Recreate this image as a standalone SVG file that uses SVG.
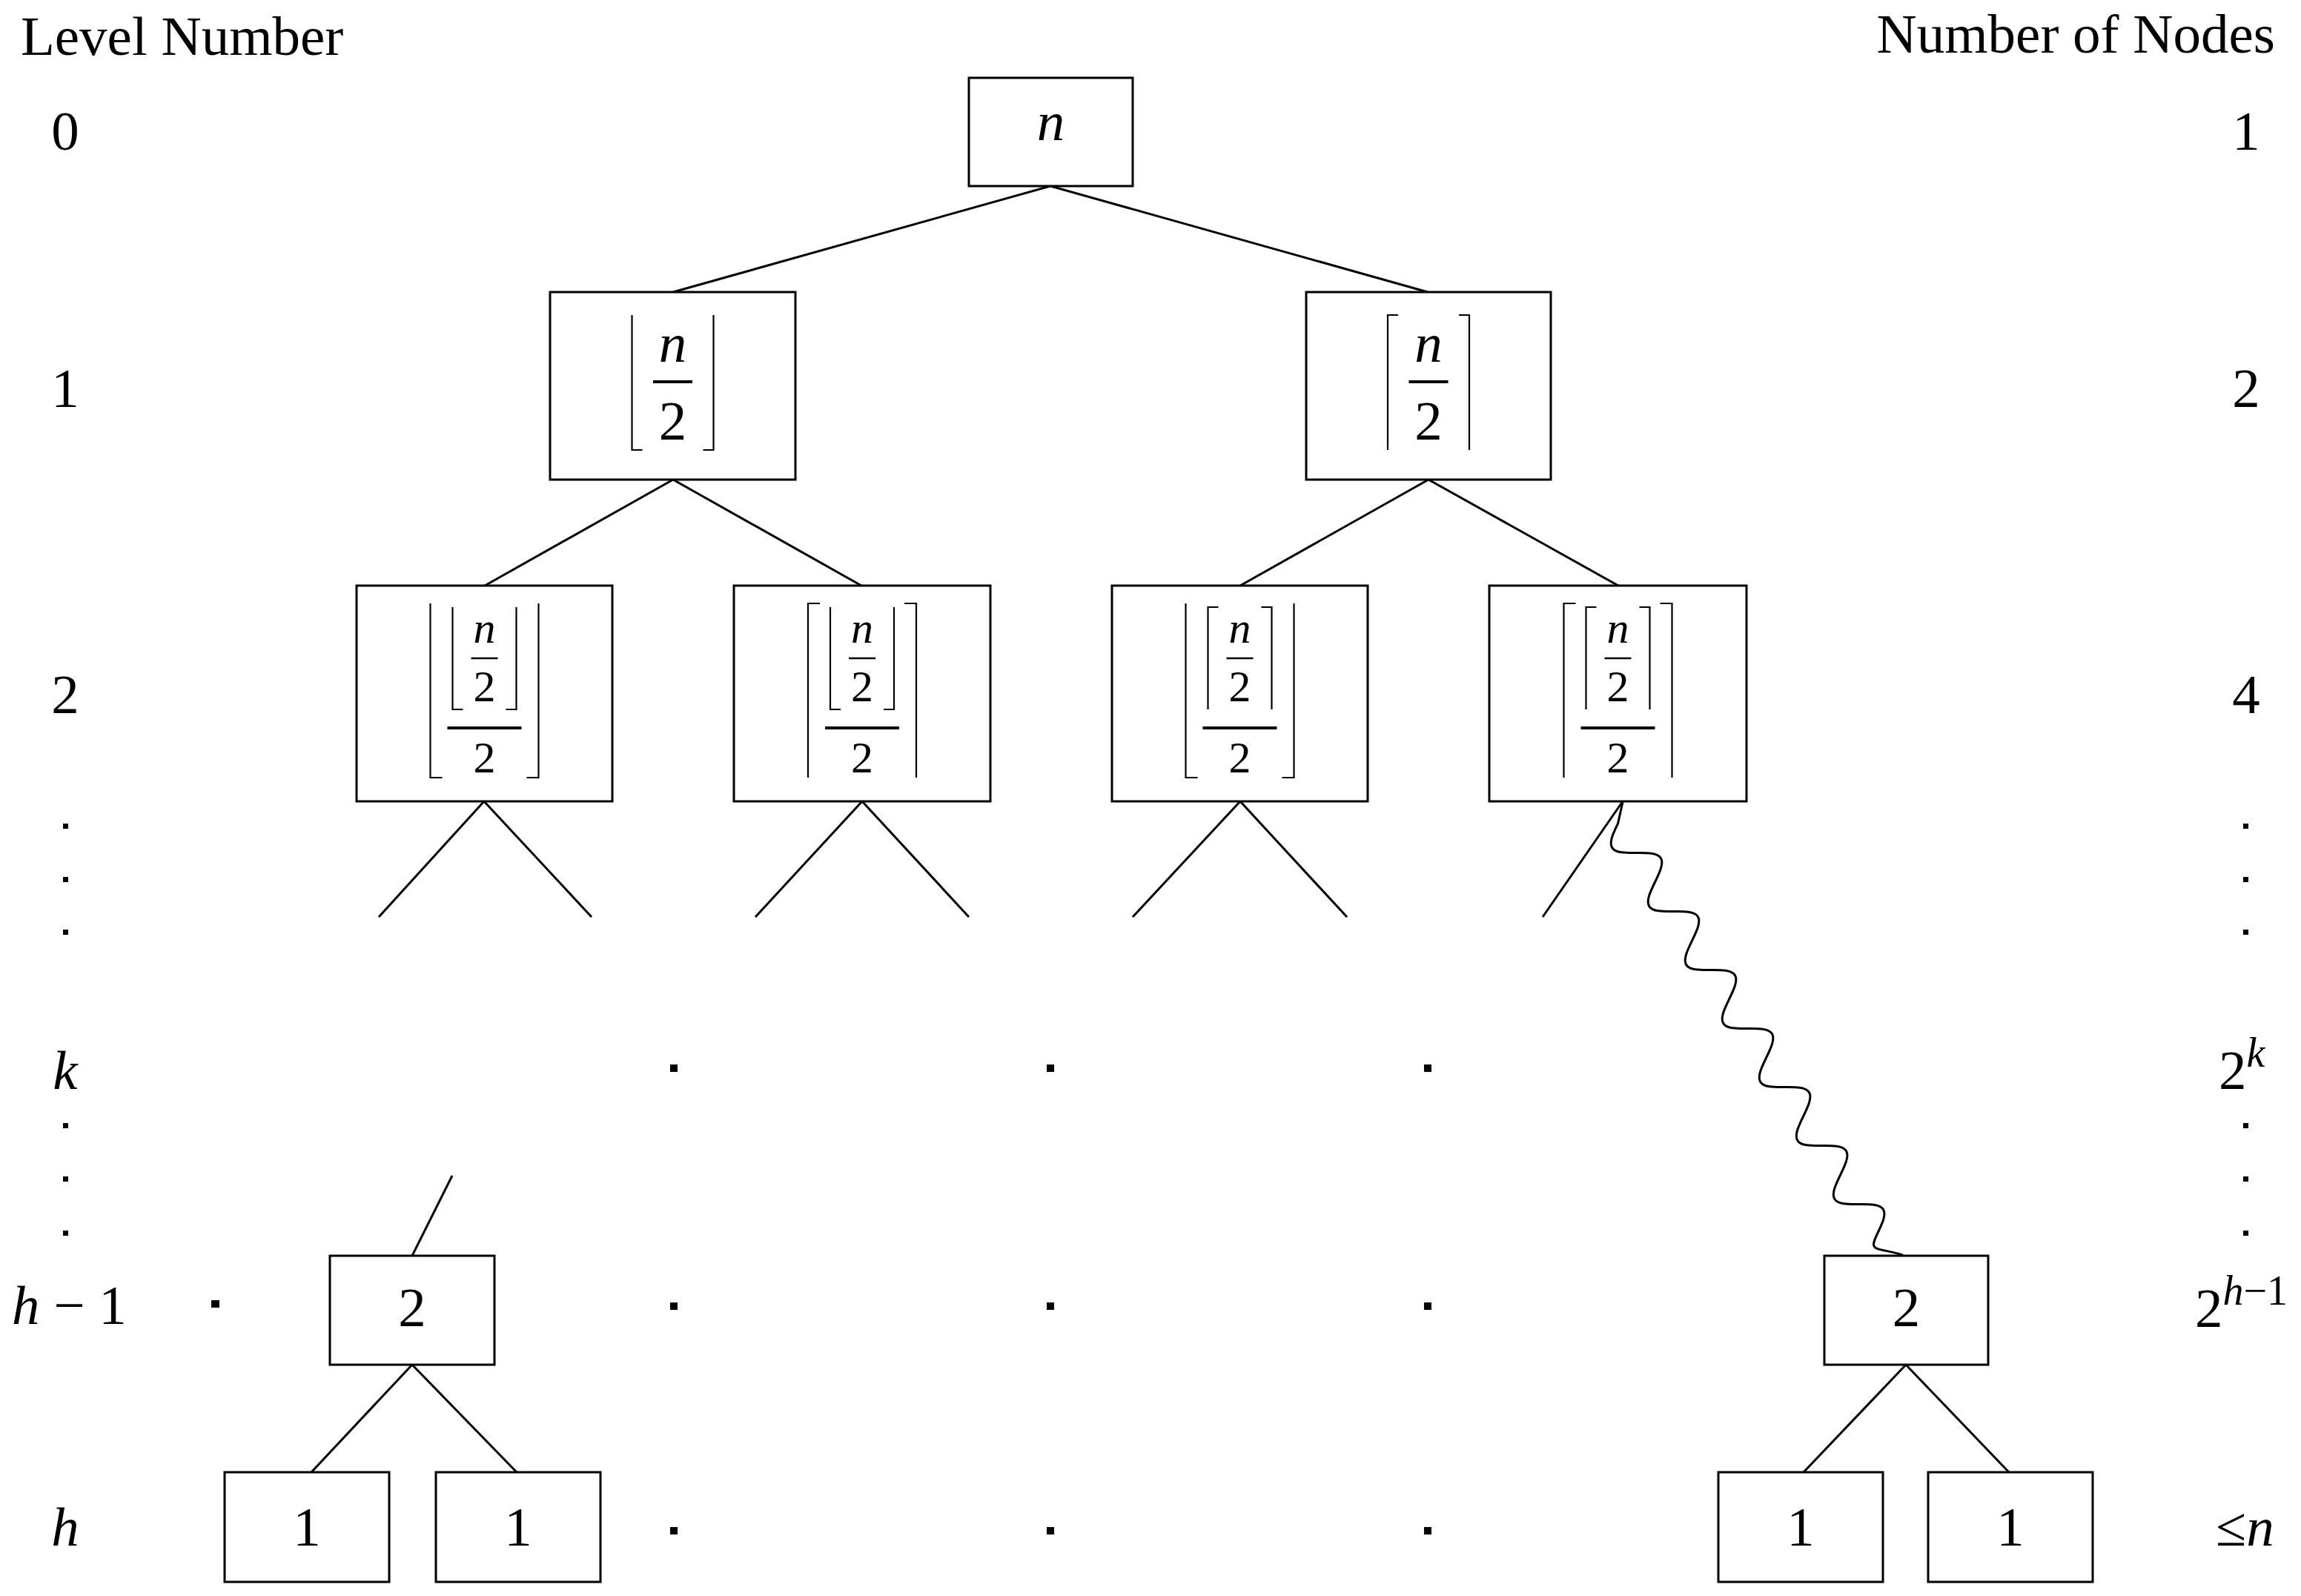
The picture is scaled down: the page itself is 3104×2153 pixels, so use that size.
<svg xmlns="http://www.w3.org/2000/svg" width="3104" height="2153" viewBox="0 0 3104 2153">
<style>
.box{fill:#fff;stroke:#000;stroke-width:3}
.ln{stroke:#000;stroke-width:3;fill:none}
.br{stroke:#000;stroke-width:2.2;fill:none}
.fb{stroke:#000;stroke-width:3.8}
.fb2{stroke:#000;stroke-width:2.4}
.t{font-family:"Liberation Serif","Times New Roman",serif;font-size:75px;fill:#000}
.i{font-style:italic}
.m{text-anchor:middle}
.s{font-size:60px}
.sup{font-size:56px}
.dot{fill:#000}
</style>
<rect width="3104" height="2153" fill="#fff"/>

<g id="headers">
<text class="t" x="28" y="74">Level Number</text>
<text class="t" x="3069" y="71" text-anchor="end">Number of Nodes</text>
</g>

<g id="level-labels">
<text class="t m" x="88" y="202">0</text>
<text class="t m" x="88" y="549">1</text>
<text class="t m" x="88" y="962">2</text>
<rect class="dot" x="85" y="1111" width="7" height="7"/>
<rect class="dot" x="85" y="1183" width="7" height="7"/>
<rect class="dot" x="85" y="1254" width="7" height="7"/>
<text class="t i m" x="88" y="1469">k</text>
<rect class="dot" x="85" y="1515" width="7" height="7"/>
<rect class="dot" x="85" y="1587" width="7" height="7"/>
<rect class="dot" x="85" y="1660" width="7" height="7"/>
<text class="t" x="16" y="1786"><tspan class="i">h</tspan> − 1</text>
<text class="t i m" x="88" y="2085">h</text>
</g>

<g id="node-counts">
<text class="t m" x="3030" y="202">1</text>
<text class="t m" x="3030" y="549">2</text>
<text class="t m" x="3030" y="962">4</text>
<rect class="dot" x="3026" y="1111" width="7" height="7"/>
<rect class="dot" x="3026" y="1183" width="7" height="7"/>
<rect class="dot" x="3026" y="1254" width="7" height="7"/>
<text class="t" x="2993" y="1469">2<tspan class="sup i" dy="-30">k</tspan></text>
<rect class="dot" x="3026" y="1515" width="7" height="7"/>
<rect class="dot" x="3026" y="1587" width="7" height="7"/>
<rect class="dot" x="3026" y="1660" width="7" height="7"/>
<text class="t" x="2961" y="1790">2<tspan class="sup" dy="-30"><tspan class="i">h</tspan>−1</tspan></text>
<text class="t" x="2989" y="2085">≤<tspan class="i">n</tspan></text>
</g>

<g id="ellipsis-dots">
<rect class="dot" x="904" y="1436" width="10" height="10"/>
<rect class="dot" x="1412" y="1436" width="10" height="10"/>
<rect class="dot" x="1921" y="1436" width="10" height="10"/>
<rect class="dot" x="285" y="1754" width="11" height="10"/>
<rect class="dot" x="904" y="1757" width="10" height="10"/>
<rect class="dot" x="1412" y="1757" width="10" height="10"/>
<rect class="dot" x="1921" y="1757" width="10" height="10"/>
<rect class="dot" x="904" y="2060" width="10" height="10"/>
<rect class="dot" x="1412" y="2060" width="10" height="10"/>
<rect class="dot" x="1921" y="2060" width="10" height="10"/>
</g>

<g id="connectors">
<line class="ln" x1="1417" y1="251" x2="908" y2="394"/>
<line class="ln" x1="1417" y1="251" x2="1926" y2="394"/>
<line class="ln" x1="908" y1="647" x2="654" y2="790"/>
<line class="ln" x1="908" y1="647" x2="1162" y2="790"/>
<line class="ln" x1="1927" y1="647" x2="1673" y2="790"/>
<line class="ln" x1="1927" y1="647" x2="2183" y2="790"/>
<line class="ln" x1="653" y1="1081" x2="511" y2="1237"/>
<line class="ln" x1="653" y1="1081" x2="798" y2="1237"/>
<line class="ln" x1="1163" y1="1081" x2="1019" y2="1237"/>
<line class="ln" x1="1163" y1="1081" x2="1307" y2="1237"/>
<line class="ln" x1="1673" y1="1081" x2="1528" y2="1237"/>
<line class="ln" x1="1673" y1="1081" x2="1817" y2="1237"/>
<line class="ln" x1="2189" y1="1081" x2="2081" y2="1237"/>
<g transform="translate(2182.5,1111) rotate(57.66)">
<path class="ln" d="M-21,-21 L0,0 C7.62,12.3 14.91,24 23.375,24 S39.13,12.3 46.75,0 S61.66,-24 70.125,-24 S85.88,-12.3 93.5,0 S108.41,24 116.875,24 S132.63,12.3 140.25,0 S155.16,-24 163.625,-24 S179.38,-12.3 187,0 S201.91,24 210.375,24 S226.13,12.3 233.75,0 S248.66,-24 257.125,-24 S272.88,-12.3 280.5,0 S295.41,24 303.875,24 S319.63,12.3 327.25,0 S342.16,-24 350.625,-24 S366.38,-12.3 374,0 S388.91,24 397.375,24 S413.13,12.3 420.75,0 S435.66,-24 444.125,-24 S459.88,-12.3 467.5,0 S482.41,24 490.875,24 S506.63,12.3 514.25,0 S529.16,-24 537.625,-24 S553.38,-12.3 561,0 S575.91,24 584.375,24 S600.13,12.3 607.75,0 S622.66,-24 631.125,-24 S646.88,-12.3 654.5,0 C662.12,12.3 666,16 672,11 S688,-6 697.5,-13.5"/>
</g>
<line class="ln" x1="556" y1="1694" x2="610" y2="1586"/>
<line class="ln" x1="556" y1="1841" x2="420" y2="1986"/>
<line class="ln" x1="556" y1="1841" x2="697" y2="1986"/>
<line class="ln" x1="2571" y1="1841" x2="2433" y2="1986"/>
<line class="ln" x1="2571" y1="1841" x2="2710" y2="1986"/>
</g>

<g id="node-root">
<rect class="box" x="1307" y="105" width="221" height="146"/>
<text class="t i m" x="1417.5" y="189">n</text>
</g>

<g id="node-l1-floor">
<rect class="box" x="742" y="394" width="331" height="253"/>
<path class="br" d="M852.5,425 V607 H866.5 M962.5,425 V607 H948.5"/>
<text class="t i m" x="907.5" y="488">n</text>
<line class="fb" x1="881" y1="515" x2="934" y2="515"/>
<text class="t m" x="907.5" y="593">2</text>
</g>

<g id="node-l1-ceil">
<rect class="box" x="1762" y="394" width="330" height="253"/>
<path class="br" d="M1886,425 H1872 V607 M1968,425 H1982 V607"/>
<text class="t i m" x="1927" y="488">n</text>
<line class="fb" x1="1900.5" y1="515" x2="1953.5" y2="515"/>
<text class="t m" x="1927" y="593">2</text>
</g>

<g id="node-l2-a">
<rect class="box" x="481" y="790" width="345" height="291"/>
<path class="br" d="M580.5,814 V1049 H596.5 M726.5,814 V1049 H710.5 M610.5,819 V957 H624.5 M696.5,819 V957 H682.5"/>
<text class="t i m s" x="653.5" y="867">n</text>
<line class="fb2" x1="635.5" y1="888" x2="671.5" y2="888"/>
<text class="t m s" x="653.5" y="946">2</text>
<line class="fb" x1="603.5" y1="982" x2="703.5" y2="982"/>
<text class="t m s" x="653.5" y="1042">2</text>
</g>

<g id="node-l2-b">
<rect class="box" x="990" y="790" width="346" height="291"/>
<path class="br" d="M1106,814 H1090 V1049 M1220,814 H1236 V1049 M1120,819 V957 H1134 M1206,819 V957 H1192"/>
<text class="t i m s" x="1163" y="867">n</text>
<line class="fb2" x1="1145" y1="888" x2="1181" y2="888"/>
<text class="t m s" x="1163" y="946">2</text>
<line class="fb" x1="1113" y1="982" x2="1213" y2="982"/>
<text class="t m s" x="1163" y="1042">2</text>
</g>

<g id="node-l2-c">
<rect class="box" x="1500" y="790" width="345" height="291"/>
<path class="br" d="M1599.5,814 V1049 H1615.5 M1745.5,814 V1049 H1729.5 M1643.5,819 H1629.5 V957 M1701.5,819 H1715.5 V957"/>
<text class="t i m s" x="1672.5" y="867">n</text>
<line class="fb2" x1="1654.5" y1="888" x2="1690.5" y2="888"/>
<text class="t m s" x="1672.5" y="946">2</text>
<line class="fb" x1="1622.5" y1="982" x2="1722.5" y2="982"/>
<text class="t m s" x="1672.5" y="1042">2</text>
</g>

<g id="node-l2-d">
<rect class="box" x="2009" y="790" width="347" height="291"/>
<path class="br" d="M2125.5,814 H2109.5 V1049 M2239.5,814 H2255.5 V1049 M2153.5,819 H2139.5 V957 M2211.5,819 H2225.5 V957"/>
<text class="t i m s" x="2182.5" y="867">n</text>
<line class="fb2" x1="2164.5" y1="888" x2="2200.5" y2="888"/>
<text class="t m s" x="2182.5" y="946">2</text>
<line class="fb" x1="2132.5" y1="982" x2="2232.5" y2="982"/>
<text class="t m s" x="2182.5" y="1042">2</text>
</g>

<g id="node-hm1-left">
<rect class="box" x="445" y="1694" width="222" height="147"/>
<text class="t m" x="556" y="1789">2</text>
</g>
<g id="node-hm1-right">
<rect class="box" x="2461" y="1694" width="221" height="147"/>
<text class="t m" x="2571.5" y="1789">2</text>
</g>
<g id="node-leaf-1">
<rect class="box" x="303" y="1986" width="222" height="148"/>
<text class="t m" x="414" y="2085">1</text>
</g>
<g id="node-leaf-2">
<rect class="box" x="588" y="1986" width="222" height="148"/>
<text class="t m" x="699" y="2085">1</text>
</g>
<g id="node-leaf-3">
<rect class="box" x="2318" y="1986" width="222" height="148"/>
<text class="t m" x="2429" y="2085">1</text>
</g>
<g id="node-leaf-4">
<rect class="box" x="2601" y="1986" width="222" height="148"/>
<text class="t m" x="2712" y="2085">1</text>
</g>
</svg>
